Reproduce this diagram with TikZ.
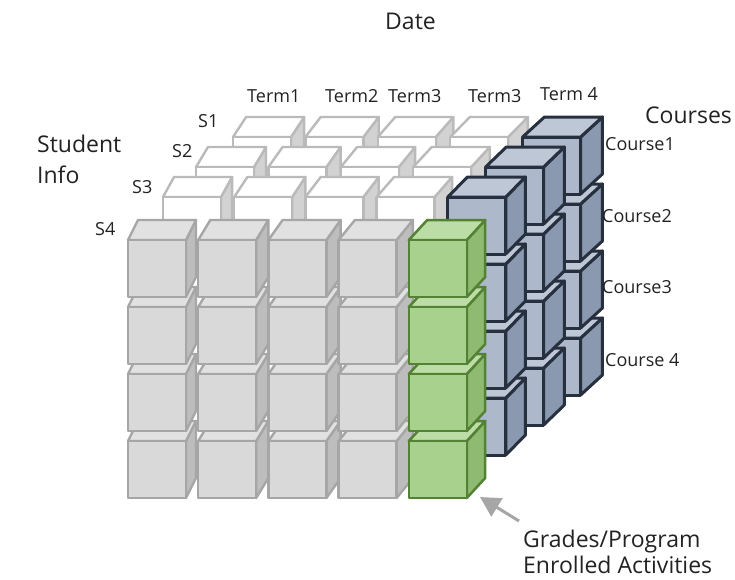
\documentclass[tikz,border=0pt]{standalone}
\usepackage{fontspec}
\setmainfont{Open Sans}
\usetikzlibrary{arrows.meta}

% cube palettes
\definecolor{greyfront}{HTML}{D9D9D9}
\definecolor{greytop}{HTML}{E1E1E1}
\definecolor{greyside}{HTML}{BDBDBD}
\definecolor{greyedge}{HTML}{A6A6A6}
\definecolor{whitefront}{HTML}{FFFFFF}
\definecolor{whitetop}{HTML}{FFFFFF}
\definecolor{whiteside}{HTML}{D2D2D2}
\definecolor{whiteedge}{HTML}{BABABA}
\definecolor{bluefront}{HTML}{ADB9CA}
\definecolor{bluetop}{HTML}{BDC7D6}
\definecolor{blueside}{HTML}{8A99AF}
\definecolor{blueedge}{HTML}{27303F}
\definecolor{greenfront}{HTML}{A9D18E}
\definecolor{greentop}{HTML}{BCDDA5}
\definecolor{greenside}{HTML}{8FBA72}
\definecolor{greenedge}{HTML}{548235}
\definecolor{txt}{HTML}{222222}
\definecolor{arrowgrey}{HTML}{A6A6A6}

% front face size and top-face rise
\def\cw{58}
\def\ch{57}
\def\dz{20}

% one cube: front-top-left corner (#1,#2), side depth #3, palette #4, edge width #5
\newcommand\cubebox[5]{%
  \filldraw[fill=#4side, draw=#4edge, line width=#5, line join=round]
    (#1+\cw,#2) -- ++(#3,-\dz) -- ++(0,\ch) -- ++(-#3,\dz) -- cycle;
  \filldraw[fill=#4top, draw=#4edge, line width=#5, line join=round]
    (#1,#2) -- ++(\cw,0) -- ++(#3,-\dz) -- ++(-\cw,0) -- cycle;
  \filldraw[fill=#4front, draw=#4edge, line width=#5, line join=round]
    (#1,#2) rectangle ++(\cw,\ch);
}

\tikzset{
  small/.style={font=\fontsize{18}{20}\selectfont, text=txt, inner sep=0pt, anchor=base west},
  large/.style={font=\fontsize{23}{27}\selectfont, text=txt, inner sep=0pt, anchor=base west},
  pointer/.style={draw=arrowgrey, fill=arrowgrey, line width=3pt,
    -{Triangle[length=20pt,width=21pt]}}
}

\begin{document}
\begin{tikzpicture}[x=1pt,y=-1pt]
\useasboundingbox (0,0) rectangle (735,579);

% block of cubes, drawn back row first, bottom layer first, left to right
\foreach \d in {3,2,1,0} {
  \foreach \l in {3,2,1,0} {
    \foreach \c in {0,1,2,3,4} {
      \pgfmathsetmacro\xa{{128,163,196,233}[\d]}
      \pgfmathsetmacro\pc{{70.2,71.2,72.4,72.4}[\d]}
      \pgfmathsetmacro\ya{{240,197,167,137}[\d]}
      \pgfmathsetmacro\xx{\xa+\pc*\c}
      \pgfmathsetmacro\yy{\ya+67*\l}
      \pgfmathsetmacro\sd{10+0.03*(\xx-128)}
      \ifnum\d=0
        \ifnum\c=4 \def\pal{green}\def\lw{2.5pt}\else\def\pal{grey}\def\lw{2.4pt}\fi
      \else
        \ifnum\c=4 \def\pal{blue}\def\lw{3pt}\else\def\pal{white}\def\lw{2.4pt}\fi
      \fi
      \cubebox{\xx}{\yy}{\sd}{\pal}{\lw}
    }
  }
}

% titles
\node[large] (date) at (385,29) {Date};
\node[large] (student) at (37,152) {Student};
\node[large] (info) at (37,183) {Info};
\node[large] (courses) at (645,123) {Courses};

% term labels
\node[small] (t1) at (247,102) {Term1};
\node[small] (t2) at (325,102) {Term2};
\node[small] (t3a) at (388,102) {Term3};
\node[small] (t3b) at (468,102) {Term3};
\node[small] (t4) at (540,100) {Term 4};

% student labels
\node[small] (s1) at (198,127) {S1};
\node[small] (s2) at (172,157) {S2};
\node[small] (s3) at (132,193) {S3};
\node[small] (s4) at (95,235) {S4};

% course labels
\node[small] (c1) at (605,150) {Course1};
\node[small] (c2) at (602,222) {Course2};
\node[small] (c3) at (602,293) {Course3};
\node[small] (c4) at (605,366) {Course 4};

% callout
\node[large] (grades) at (523,547) {Grades/Program};
\node[large] (enrolled) at (523,573) {Enrolled Activities};
\coordinate (tail) at (519,521);
\coordinate (tip) at (480,497);
\draw[pointer] (tail) -- (tip);
\end{tikzpicture}
\end{document}
